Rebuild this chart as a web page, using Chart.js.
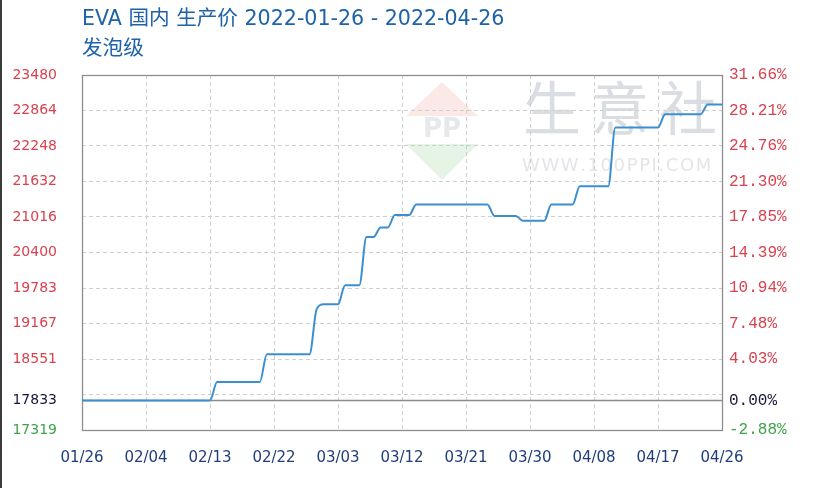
<!DOCTYPE html>
<html><head><meta charset="utf-8">
<script src="https://cdn.jsdelivr.net/npm/chart.js@4.4.1/dist/chart.umd.min.js"></script>
<style>html,body{margin:0;padding:0;background:#fff}#wrap{width:826px;height:488px;position:relative}</style>
</head><body><div id="wrap"><canvas id="c" width="826" height="488"></canvas></div>
<script>
const titleText = 'EVA 国内 生产价 2022-01-26 - 2022-04-26';
const subtitleText = '发泡级';
const startDate = [2022, 0, 26];
// daily price (yuan/ton), 2022-01-26 .. 2022-04-26
const prices = [
  17833,17833,17833,17833,17833,17833,17833,17833,17833,17833,
  17833,17833,17833,17833,17833,17833,17833,17833,17833,18150,
  18150,18150,18150,18150,18150,18150,18633,18633,18633,18633,
  18633,18633,18633,19417,19500,19500,19500,19833,19833,19833,
  20667,20667,20833,20833,21050,21050,21050,21233,21233,21233,
  21233,21233,21233,21233,21233,21233,21233,21233,21033,21033,
  21033,21033,20950,20950,20950,20950,21233,21233,21233,21233,
  21550,21550,21550,21550,21550,22567,22567,22567,22567,22567,
  22567,22567,22800,22800,22800,22800,22800,22800,22967,22967,
  22967
];
const xTickLabels = ['01/26','02/04','02/13','02/22','03/03','03/12','03/21','03/30','04/08','04/17','04/26'];
const xTickEvery = 9;
const leftTickValues = [17319,17833,18551,19167,19783,20400,21016,21632,22248,22864,23480];
const leftTickLabels = ['17319','17833','18551','19167','19783','20400','21016','21632','22248','22864','23480'];
const rightTickLabels = ['-2.88%','0.00%','4.03%','7.48%','10.94%','14.39%','17.85%','21.30%','24.76%','28.21%','31.66%'];
const extraGridValue = 17936;
const baseValue = 17833;
const lowValue = 17319;
const yMin = 17319, yMax = 23480;

// categories: one per day
const categories = [];
for (let i = 0; i < prices.length; i++) {
  const d = new Date(startDate[0], startDate[1], startDate[2] + i);
  categories.push(String(d.getMonth() + 1).padStart(2, '0') + '/' + String(d.getDate()).padStart(2, '0'));
}

const RED = '#d8414e', NAVY = '#15173a', GREEN = '#3ea34c';
const tickColor = (v) => v === baseValue ? NAVY : (v === lowValue ? GREEN : RED);

const deco = {
  id: 'deco',
  beforeDraw(chart) {
    const ctx = chart.ctx;
    ctx.save();
    ctx.fillStyle = '#fff';
    ctx.fillRect(0, 0, chart.width, chart.height);
    ctx.fillStyle = '#3a3a3a';
    ctx.fillRect(0, 0, 2, chart.height);
    // watermark logo
    ctx.globalAlpha = 0.22;
    ctx.fillStyle = '#e69a8e';
    ctx.beginPath(); ctx.moveTo(442, 82); ctx.lineTo(478, 116); ctx.lineTo(406, 116); ctx.closePath(); ctx.fill();
    ctx.fillStyle = '#8fcf8f';
    ctx.beginPath(); ctx.moveTo(406, 144); ctx.lineTo(478, 144); ctx.lineTo(442, 180); ctx.closePath(); ctx.fill();
    ctx.globalAlpha = 1;
    ctx.fillStyle = '#e6e8eb';
    ctx.font = 'bold 26px "DejaVu Sans"';
    ctx.textAlign = 'center'; ctx.textBaseline = 'middle';
    ctx.fillText('PP', 442, 130);
    // watermark text
    ctx.fillStyle = '#dadde1';
    ctx.font = '58px "Noto Sans CJK SC"';
    ctx.fillText('生', 552, 108);
    ctx.fillText('意', 620, 108);
    ctx.fillText('社', 688, 108);
    ctx.fillStyle = '#e3e5e8';
    ctx.font = '18px "DejaVu Sans"';
    ctx.textAlign = 'left';
    const wm = 'WWW.100PPI.COM';
    let x = 522;
    for (const ch of wm) { ctx.fillText(ch, x, 166); x += ctx.measureText(ch).width + 1.6; }
    ctx.restore();
  },
  beforeDatasetsDraw(chart) {
    const ctx = chart.ctx, a = chart.chartArea;
    const y = Math.round(chart.scales.y.getPixelForValue(baseValue)) + 0.5;
    ctx.save();
    ctx.strokeStyle = '#8c8c8c';
    ctx.lineWidth = 1.5;
    ctx.beginPath(); ctx.moveTo(a.left, y); ctx.lineTo(a.right, y); ctx.stroke();
    ctx.lineWidth = 1.3;
    ctx.strokeStyle = '#8e8e8e';
    ctx.strokeRect(Math.round(a.left) + 0.5, Math.round(a.top) + 0.5, Math.round(a.right - a.left), Math.round(a.bottom - a.top));
    ctx.restore();
  },
  afterDraw(chart) {
    const ctx = chart.ctx;
    ctx.save();
    ctx.fillStyle = '#1e63a8';
    ctx.textBaseline = 'middle';
    ctx.textAlign = 'left';
    ctx.font = '20.6px "DejaVu Sans", "Noto Sans CJK SC"';
    ctx.fillText(titleText, 82, 20);
    ctx.fillText(subtitleText, 82, 50);
    ctx.restore();
  }
};

new Chart(document.getElementById('c'), {
  type: 'line',
  data: {
    labels: categories,
    datasets: [{
      data: prices,
      borderColor: '#3b8fd0',
      borderWidth: 2,
      pointRadius: 0,
      fill: false,
      cubicInterpolationMode: 'monotone',
      yAxisID: 'y'
    }]
  },
  options: {
    responsive: false,
    animation: false,
    devicePixelRatio: 1,
    layout: { padding: { top: 75, left: 0, right: 0, bottom: 0 } },
    plugins: { legend: { display: false }, tooltip: { enabled: false }, title: { display: false } },
    scales: {
      x: {
        type: 'category',
        offset: false,
        afterBuildTicks(scale) { scale.ticks = scale.ticks.filter(t => t.value % xTickEvery === 0); },
        afterFit(scale) { scale.height = 58; },
        grid: { color: '#cfcfcf', lineWidth: 1, drawTicks: false },
        border: { display: false, dash: [4, 3] },
        ticks: {
          autoSkip: false, maxRotation: 0, minRotation: 0, padding: 19,
          color: '#1f3f7a',
          font: { family: 'DejaVu Sans', size: 15 },
          callback: (v, i) => xTickLabels[i]
        }
      },
      y: {
        type: 'linear', position: 'left', min: yMin, max: yMax,
        afterBuildTicks(scale) {
          scale.ticks = leftTickValues.concat([extraGridValue]).sort((a, b) => a - b).map(v => ({ value: v }));
        },
        afterFit(scale) { scale.width = 82; },
        grid: { color: '#cfcfcf', lineWidth: 1, drawTicks: false },
        border: { display: false, dash: [4, 3] },
        ticks: {
          padding: 25,
          font: { family: 'DejaVu Sans', size: 14 },
          color: (c) => tickColor(c.tick.value),
          callback: (v) => { const k = leftTickValues.indexOf(v); return k < 0 ? '' : leftTickLabels[k]; }
        }
      },
      y2: {
        type: 'linear', position: 'right', min: yMin, max: yMax,
        afterBuildTicks(scale) { scale.ticks = leftTickValues.map(v => ({ value: v })); },
        afterFit(scale) { scale.width = 104; },
        grid: { display: false, drawTicks: false },
        border: { display: false },
        ticks: {
          padding: 7,
          font: { family: 'Liberation Mono', size: 16 },
          color: (c) => tickColor(c.tick.value),
          callback: (v) => { const k = leftTickValues.indexOf(v); return k < 0 ? '' : rightTickLabels[k]; }
        }
      }
    }
  },
  plugins: [deco]
});
</script>
</body></html>
